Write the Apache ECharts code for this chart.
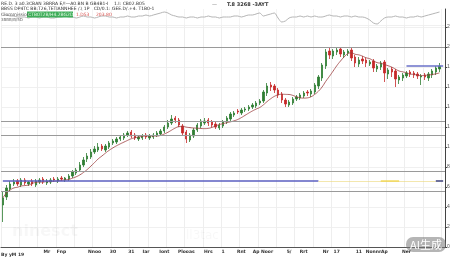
<!DOCTYPE html>
<html><head><meta charset="utf-8">
<script src="https://cdn.jsdelivr.net/npm/echarts@6/dist/echarts.min.js"></script>
<style>html,body{margin:0;padding:0;background:#fff;overflow:hidden}#c{width:450px;height:257px}</style>
</head><body><div id="c"></div><script>
const openV=[42,50,58,63,66,62,67,63,66,62,65,68,64,65,68,66,69,67,68,71,74,77,82,88,90,95,97,101,97,100,104,105,108,109,112,115,112,108,109,112,109,110,112,113,116,120,124,129,127,121,115,107,111,117,121,124,127,125,123,119,121,125,128,132,136,134,137,138,140,141,144,146,154,162,161,157,153,147,142,144,148,149,151,155,153,155,161,169,181,196,191,195,198,192,194,197,190,183,188,187,183,186,178,180,185,173,178,176,167,169,171,175,174,173,170,172,169,172,175,178];
const closeV=[49,59,63,65,63,67,64,65,63,66,67,65,66,67,67,68,68,69,71,75,77,82,87,91,95,98,100,98,101,104,106,108,110,112,114,111,109,110,111,110,111,112,114,116,120,124,128,127,122,114,108,112,117,122,126,126,124,122,120,122,125,129,133,134,135,137,138,140,142,144,146,155,161,160,157,152,147,143,145,148,150,152,154,154,156,162,170,182,195,192,196,197,193,195,196,189,184,187,186,184,185,179,181,184,174,177,175,168,170,172,174,173,172,171,171,170,173,176,179,181];
const lowV=[25,47,56,61,61,60,62,61,61,60,63,63,62,63,65,64,66,65,66,69,72,75,80,85,88,93,95,96,95,98,102,103,106,107,110,109,107,106,107,108,107,108,110,111,114,118,122,124,120,112,104,105,109,115,119,122,121,120,118,117,119,123,126,130,133,132,135,136,138,139,142,144,151,156,154,149,144,140,140,142,146,147,149,151,150,153,158,166,178,188,188,192,190,189,191,186,180,180,183,180,181,175,175,177,165,168,170,160,163,166,169,170,169,168,162,167,166,169,172,175];
const highV=[56,62,66,68,68,69,69,66,68,68,69,70,68,69,70,70,71,70,73,77,79,85,90,94,98,101,104,103,103,106,108,110,112,114,116,117,114,112,113,114,113,114,116,118,122,127,132,131,129,123,117,114,119,124,128,129,129,127,125,124,127,131,135,136,138,139,140,142,144,146,148,157,164,165,163,159,155,149,147,150,152,154,156,157,158,164,172,184,198,200,198,199,200,197,198,199,192,190,191,189,187,188,183,186,187,179,180,178,172,174,176,177,176,175,173,174,175,178,181,184];
const oscV=[11,11,10,10,9,9,9,8,9,9,8,9,9,8,8,9,9,10,9,9,8,9,10,9,9,8,9,10,10,9,9,8,9,9,10,9,9,10,10,11,10,11,12,13,14,13,11,10,9,9,8,9,9,8,9,9,10,9,9,8,9,9,9,10,10,9,10,11,11,12,13,10,11,12,13,8,4,5,8,9,9,10,9,10,9,10,9,9,10,11,10,10,9,10,10,9,10,9,9,8,6,3,2,5,8,9,9,10,9,9,8,9,9,10,9,10,11,12,13,14];
const tickNames=['Mr','Fnp','Nnoo','30','31','Iar','Iont','Plooas','Hrs','1','Rnt','Ap','Noor','5/','Rrt','Nr','17','11','Nonnr','Ap','Ner'];
const tickIdx=[12,16,25,30,35,39,44,50,56,60,65,69,72,78,82,88,91,97,101,104,110];
const levelLines=[200,126,112,76,56];
const blueLevel=66, blueLevel2=181;

const N=closeV.length+1;
const categories=[];
for(let i=0;i<N;i++){const k=tickIdx.indexOf(i);categories.push(k>=0?tickNames[k]:'');}
const kdata=closeV.map((c,i)=>[openV[i],c,lowV[i],highV[i]]);
const ma=closeV.map((c,i)=>{const s=Math.max(0,i-7);let t=0;for(let j=s;j<=i;j++)t+=closeV[j];return +(t/(i-s+1)).toFixed(2);});

const chart=echarts.init(document.getElementById('c'),null,{renderer:'canvas'});
const txt=(text,x,y,fs,fill,extra)=>Object.assign({type:'text',silent:true,style:{text,x,y,font:(extra&&extra.bold?'bold ':'')+fs+'px "DejaVu Sans", sans-serif',fill,textVerticalAlign:'top'}},{z:100});
chart.setOption({
  animation:false,
  backgroundColor:'#fff',
  grid:[{left:1,right:5,top:9,height:17,outerBoundsMode:'none',containLabel:false},{left:1,right:5,top:25,height:222,outerBoundsMode:'none',containLabel:false}],
  xAxis:[
    {type:'category',gridIndex:0,data:categories,boundaryGap:true,axisLine:{show:false},axisTick:{show:false},axisLabel:{show:false},splitLine:{show:true,interval:4,lineStyle:{color:'#f3f3f3',width:1}}},
    {type:'category',gridIndex:1,data:categories,boundaryGap:true,axisLine:{show:true,lineStyle:{color:'#555',width:1}},axisTick:{show:false},
     axisLabel:{show:true,interval:0,fontSize:4.5,color:'#333',fontWeight:'bold',margin:2,fontFamily:'DejaVu Sans'},
     splitLine:{show:true,interval:4,lineStyle:{color:'#eeeeee',width:1}}}
  ],
  yAxis:[
    {type:'value',gridIndex:0,position:'right',min:0,max:17,axisLine:{show:true,lineStyle:{color:'#444'}},axisTick:{show:false},axisLabel:{show:false},splitLine:{show:false}},
    {type:'value',gridIndex:1,position:'right',min:0,max:222,interval:20,axisLine:{show:true,lineStyle:{color:'#444'}},axisTick:{show:true,length:2,lineStyle:{color:'#444'}},
     axisLabel:{show:true,fontSize:5,color:'#555',margin:2},splitLine:{show:true,lineStyle:{color:'#f0f0f0',width:1}}}
  ],
  series:[
    {type:'line',xAxisIndex:0,yAxisIndex:0,data:oscV,symbol:'none',smooth:0.3,lineStyle:{color:'#b5b5b5',width:1},silent:true},
    {type:'candlestick',xAxisIndex:1,yAxisIndex:1,data:kdata,barMaxWidth:2.6,
     itemStyle:{color:'#2f7d32',color0:'#c62828',borderColor:'#2f7d32',borderColor0:'#c62828',borderWidth:0.8},
     markLine:{silent:true,symbol:'none',label:{show:false},animation:false,
       data:[
         ...levelLines.map(v=>({yAxis:v,lineStyle:{color:'#9a9a9a',width:1,type:'solid'}})),
         [{coord:[0,blueLevel],lineStyle:{color:'#5b5fc0',width:1.5,type:'solid'}},{coord:[86,blueLevel]}],
         [{coord:[86,blueLevel],lineStyle:{color:'rgba(235,215,120,0.6)',width:1.2,type:'solid'}},{coord:[118,blueLevel]}],
         [{coord:[103,blueLevel],lineStyle:{color:'rgba(240,210,60,0.8)',width:1.5,type:'solid'}},{coord:[108,blueLevel]}],
         [{coord:[118,blueLevel],lineStyle:{color:'#3c4078',width:1.5,type:'solid'}},{coord:[120,blueLevel]}],
         [{coord:[110,blueLevel2],lineStyle:{color:'#6a70c8',width:1.5,type:'solid'}},{coord:[120,blueLevel2]}]
       ]}},
    {type:'line',xAxisIndex:1,yAxisIndex:1,data:ma,symbol:'none',smooth:true,lineStyle:{color:'#9b3b3b',width:0.8},silent:true}
  ],
  graphic:[
    txt('RE.D. 3 a0.3CBAN 3BRRA E/!—A0.BN B GB4B1-I    1.I: CB02.B05',1,1,4.5,'#333'),
    txt('BBSS DP4TC BB:T26,TETIANNHEE /.\\ 1P   CD/0.1: GEE.D/.+4. T1B0-1',1,6.5,4.5,'#333'),
    txt('—',212,2,5,'#777'),
    txt('T.8 3268 -3AYT',227,2,5,'#333',{bold:true}),
    {type:'rect',shape:{x:27,y:11.5,width:46,height:6},style:{fill:'#3fae5a'},z:99,silent:true},
    txt('Clommission',1,12.2,4.5,'#555'),
    txt('CTB0T2B/H4.2BG2D',28,12.2,4.5,'#dff5e0'),
    txt('1.D53',76,12.2,4.5,'#d9534f'),
    txt('203.80',96,12.2,4.5,'#d9534f'),
    txt('3BBB/B/5D',1,18,4,'#666'),
    txt('ninesct',12,224,16,'rgba(0,0,0,0.03)',{bold:true}),
    txt('ll3tac',186,230,12,'rgba(0,0,0,0.03)'),
    txt('By yM 19',1,252,4.5,'#333',{bold:true}),
    {type:'rect',shape:{x:406,y:237,width:40,height:15,r:7},style:{fill:'rgba(120,120,120,0.55)'},z:101,silent:true},
    {type:'text',z:102,silent:true,style:{text:'AI生成',x:426,y:244.5,font:'11px "Noto Sans CJK SC", sans-serif',fill:'#fff',align:'center',verticalAlign:'middle'}}
  ]
});
</script></body></html>
